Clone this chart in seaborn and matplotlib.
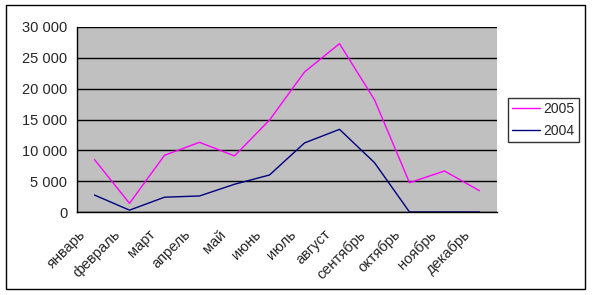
import matplotlib
matplotlib.use("Agg")
import matplotlib.pyplot as plt
import matplotlib.transforms as mtransforms
import seaborn as sns
import pandas as pd
from matplotlib.patches import Rectangle
from matplotlib.ticker import FuncFormatter, FixedLocator

months = ["январь", "февраль", "март", "апрель", "май", "июнь", "июль",
          "август", "сентябрь", "октябрь", "ноябрь", "декабрь"]
series_names = ["2005", "2004"]
values_2005 = [8500, 1400, 9200, 11300, 9100, 14900, 22700, 27300, 18200, 4750, 6650, 3450]
values_2004 = [2750, 300, 2400, 2600, 4500, 6000, 11200, 13400, 8000, 0, 0, 0]
colors = ["#ff00ff", "#000080"]

rows = []
for name, vals in zip(series_names, [values_2005, values_2004]):
    for i, v in enumerate(vals):
        rows.append({"idx": i, "value": v, "series": name})
df = pd.DataFrame(rows)

sns.set_style("white")
plt.rcParams["font.family"] = ["Liberation Sans", "DejaVu Sans"]

FS = 10.5
W, H = 593, 295
fig = plt.figure(figsize=(W / 100, H / 100), dpi=100)
ax = fig.add_axes([77 / W, 1 - 212 / H, (497 - 77) / W, (212 - 27) / H])
ax.set_facecolor("#c0c0c0")

sns.lineplot(data=df, x="idx", y="value", hue="series", hue_order=series_names,
             palette=colors, linewidth=1.0, ax=ax, legend=True)

ax.set_xlim(-0.5, 11.5)
ax.set_ylim(0, 30000)
ax.set_yticks(range(0, 30001, 5000))
ax.yaxis.set_major_formatter(FuncFormatter(lambda v, p: f"{int(v):,}".replace(",", " ")))
ax.set_xticks(range(12))
ax.set_xticklabels(months, rotation=45, ha="right", rotation_mode="anchor", fontsize=FS)
ax.xaxis.set_minor_locator(FixedLocator([i - 0.5 for i in range(13)]))
ax.tick_params(axis="x", which="major", length=0, pad=11)
ax.tick_params(axis="x", which="minor", length=4, width=1, color="black", direction="out")
ax.tick_params(axis="y", which="major", length=4, width=1, color="black", direction="out",
               labelsize=FS, pad=3)
offset = mtransforms.ScaledTranslation(-16 / 100, 0, fig.dpi_scale_trans)
for lbl in ax.get_xticklabels():
    lbl.set_transform(lbl.get_transform() + offset)
ax.grid(axis="y", color="black", linewidth=1)
ax.set_axisbelow(True)
for s in ["top", "right"]:
    ax.spines[s].set_visible(False)
for s in ["left", "bottom"]:
    ax.spines[s].set_color("black")
    ax.spines[s].set_linewidth(1)
ax.set_xlabel("")
ax.set_ylabel("")

leg = ax.legend(loc="upper left", bbox_to_anchor=(508 / W, 1 - 98 / H),
                bbox_transform=fig.transFigure, frameon=True, fancybox=False,
                edgecolor="black", fontsize=10, handlelength=2.0,
                handletextpad=0.25, borderpad=0.3, labelspacing=0.55,
                borderaxespad=0)
leg.get_frame().set_linewidth(1)

fig.patches.append(Rectangle((6 / W, 1 - 289 / H), (585 - 6) / W, (289 - 5) / H,
                             transform=fig.transFigure, fill=False,
                             edgecolor="black", linewidth=1))

fig.savefig("out.png", dpi=100)
